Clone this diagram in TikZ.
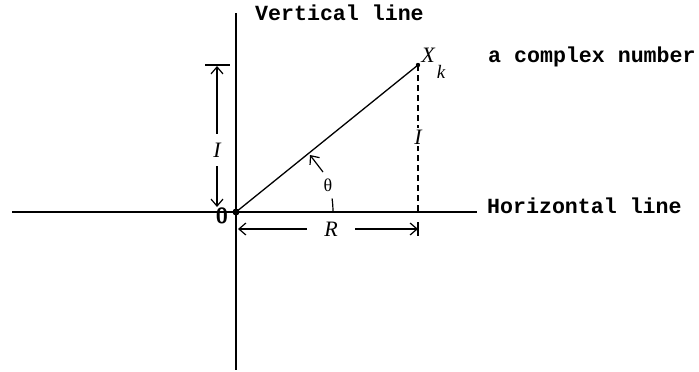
\documentclass[tikz,border=0pt]{standalone}
\usepackage{fontspec}
\setmonofont{Liberation Mono}
\newfontfamily\lserif{Liberation Serif}
\usetikzlibrary{arrows.meta}
\begin{document}
\begin{tikzpicture}[x=1pt,y=-1pt,
  axis/.style={line width=1.6pt},
  dim/.style={line width=1.2pt},
  tip/.style={-{Straight Barb[length=7pt,width=12pt,line width=1.2pt]}},
  mono/.style={font=\fontsize{21.6}{24}\selectfont\ttfamily\bfseries, inner sep=0pt, anchor=base west},
  ital/.style={font=\fontsize{22}{24}\selectfont\lserif\itshape, inner sep=0pt}]
\useasboundingbox[fill=white] (0,0) rectangle (699,372);
% axes
\coordinate (O) at (236,212);
\coordinate (Xk) at (418,65);
\coordinate (Hl) at (12,212);
\coordinate (Hr) at (477,212);
\coordinate (Vt) at (236,13);
\coordinate (Vb) at (236,370);
\coordinate (Xf) at (418,212);
\draw[axis] (Hl) -- (Hr);
\draw[axis] (Vt) -- (Vb);
% vector
\draw[line width=1.3pt] (O) -- (Xk);
\draw[dim, dash pattern=on 6pt off 4pt] (Xk) -- (Xf);
\fill (O) circle (3.5pt);
\fill (Xk) circle (2.2pt);
% dashed I
\node[ital, fill=white, inner sep=2pt] (Id) at (418,137) {I};
% left I dimension
\coordinate (Ibl) at (205,65);
\coordinate (Ibr) at (230,65);
\coordinate (It) at (217,66);
\coordinate (Ib) at (217,207);
\draw[dim] (Ibl) -- (Ibr);
\node[ital, minimum height=32pt] (Il) at (217,150) {I};
\draw[dim,tip] (Il.north) -- (It);
\draw[dim,tip] (Il.south) -- (Ib);
% R dimension
\node[ital, minimum width=48pt] (Rl) at (331,229) {R};
\coordinate (Rleft) at (238,229);
\coordinate (Rright) at (418,229);
\coordinate (Rbt) at (418,222);
\coordinate (Rbb) at (418,236);
\draw[dim,tip] (Rl.west) -- (Rleft);
\draw[dim,tip] (Rl.east) -- (Rright);
\draw[dim] (Rbt) -- (Rbb);
% theta
\node[font=\fontsize{18}{18}\selectfont\lserif, inner sep=0pt] (th) at (328,185) {θ};
\coordinate (ta) at (323,172);
\coordinate (tb) at (310,155);
\draw[dim,tip] (ta) -- (tb);
\coordinate (arcs) at (333,212);
\draw[dim] (arcs) arc[start angle=0, end angle=-8, radius=97];
% labels
\node[ital] (xl) at (428,55) {X};
\node[font=\fontsize{19}{20}\selectfont\lserif\itshape, inner sep=0pt] (kl) at (441,72) {k};
\node[font=\fontsize{22}{22}\selectfont\sffamily\bfseries, inner sep=0pt] (zero) at (222,216) {0};
\node[mono] (vl) at (255,20) {Vertical line};
\node[mono] (cn) at (488,62) {a complex number};
\node[mono] (hl) at (487,213) {Horizontal line};
\end{tikzpicture}
\end{document}
